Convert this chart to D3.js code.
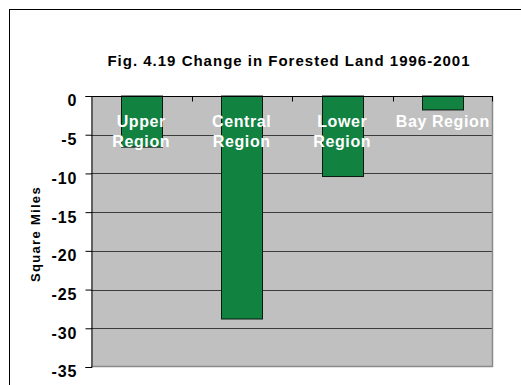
<!DOCTYPE html>
<html>
<head>
<meta charset="utf-8">
<script src="https://cdn.jsdelivr.net/npm/d3@7/dist/d3.min.js"></script>
<style>
  html, body { margin: 0; padding: 0; background: #ffffff; }
  svg { display: block; font-family: Arial, "Liberation Sans", sans-serif; }
</style>
</head>
<body>
<svg id="chart" width="521" height="385"></svg>
<script>
// Change in forested land by region, 1996-2001 (square miles)
const regions = ["Upper Region", "Central Region", "Lower Region", "Bay Region"];
const regionLines = [["Upper", "Region"], ["Central", "Region"], ["Lower", "Region"], ["Bay Region"]];
const changeSqMi = [-6.6, -28.8, -10.4, -1.8];
const yTicks = [0, -5, -10, -15, -20, -25, -30, -35];

const svg = d3.select("#chart");
const W = 521, H = 385;
const plot = { left: 91, right: 493, top: 96, bottom: 367 };

// outer chart frame (runs past the visible area on the right and bottom)
svg.append("rect")
  .attr("x", 9.5).attr("y", 9.5)
  .attr("width", W + 20).attr("height", H + 20)
  .attr("fill", "#ffffff").attr("stroke", "#000000").attr("stroke-width", 1);

const x = d3.scaleBand().domain(regions).range([plot.left, plot.right]).paddingInner(0).paddingOuter(0);
const y = d3.scaleLinear().domain([-35, 0]).range([plot.bottom, plot.top]);

// plot area background
svg.append("rect")
  .attr("x", plot.left).attr("y", plot.top)
  .attr("width", plot.right - plot.left).attr("height", plot.bottom - plot.top)
  .attr("fill", "#c0c0c0");

// horizontal gridlines
svg.append("g").selectAll("line")
  .data(yTicks.filter(v => v < 0 && v > -35))
  .join("line")
  .attr("x1", plot.left).attr("x2", plot.right)
  .attr("y1", d => Math.round(y(d)) + 0.5).attr("y2", d => Math.round(y(d)) + 0.5)
  .attr("stroke", "#3c3c3c").attr("stroke-width", 1);

// right and bottom plot border
svg.append("path")
  .attr("d", `M${plot.right - 0.5},${plot.top} V${plot.bottom - 0.5} H${plot.left}`)
  .attr("fill", "none").attr("stroke", "#8a8a8a").attr("stroke-width", 1.5);

// bars
const barW = 41;
svg.append("g").selectAll("rect")
  .data(changeSqMi)
  .join("rect")
  .attr("x", (d, i) => Math.round(x(regions[i]) + x.bandwidth() / 2 - barW / 2) + 0.5)
  .attr("y", y(0))
  .attr("width", barW)
  .attr("height", d => y(d) - y(0))
  .attr("fill", "#128241")
  .attr("stroke", "#0a1a0f").attr("stroke-width", 1);

// y axis (plain hyphen for negatives)
const yAxis = svg.append("g")
  .attr("transform", `translate(${plot.left + 0.5},0)`)
  .call(d3.axisLeft(y).tickValues(yTicks).tickSize(6).tickPadding(8).tickFormat(d => String(d)));
yAxis.select(".domain").attr("stroke", "#000");
yAxis.selectAll(".tick line").attr("stroke", "#000");
yAxis.selectAll(".tick text")
  .attr("font-size", 16).attr("font-weight", "bold").attr("fill", "#000")
  .attr("letter-spacing", 1).attr("dy", "0.62em");

// category axis along zero line with ticks between categories
const xAxis = svg.append("g")
  .attr("transform", `translate(0,${y(0) + 0.5})`);
xAxis.append("line")
  .attr("x1", plot.left).attr("x2", plot.right)
  .attr("stroke", "#000");
xAxis.selectAll("line.tick")
  .data(regions.slice(1).concat(["end"]))
  .join("line").attr("class", "tick")
  .attr("x1", d => d === "end" ? plot.right - 0.5 : Math.round(x(d)) + 0.5)
  .attr("x2", d => d === "end" ? plot.right - 0.5 : Math.round(x(d)) + 0.5)
  .attr("y1", 0).attr("y2", 5)
  .attr("stroke", "#000");

// category labels in white near the top of the plot
const labels = svg.append("g");
regionLines.forEach((lines, i) => {
  const cx = x(regions[i]) + x.bandwidth() / 2;
  lines.forEach((t, j) => {
    labels.append("text")
      .attr("x", cx).attr("y", 127 + j * 20)
      .attr("text-anchor", "middle")
      .attr("font-size", 16).attr("font-weight", "bold")
      .attr("letter-spacing", 0.6)
      .attr("fill", "#ffffff")
      .text(t);
  });
});

// title
svg.append("text")
  .attr("x", 289).attr("y", 66)
  .attr("text-anchor", "middle")
  .attr("font-size", 15).attr("font-weight", "bold")
  .attr("letter-spacing", 1)
  .attr("fill", "#000")
  .text("Fig. 4.19 Change in Forested Land 1996-2001");

// y axis title
svg.append("text")
  .attr("transform", "translate(40,234) rotate(-90)")
  .attr("text-anchor", "middle")
  .attr("font-size", 13).attr("font-weight", "bold")
  .attr("letter-spacing", 1.3)
  .attr("fill", "#000")
  .text("Square Miles");
</script>
</body>
</html>
